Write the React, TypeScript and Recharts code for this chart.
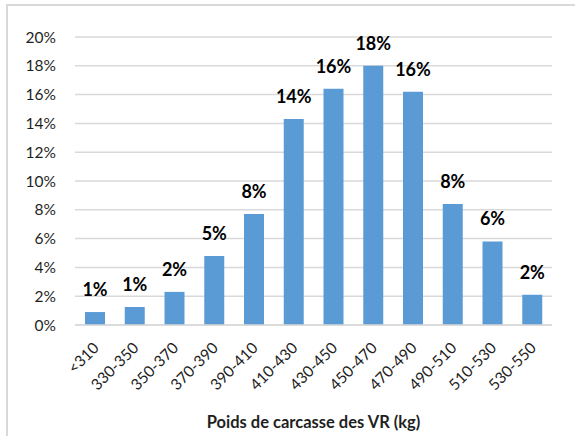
import { Bar, BarChart, CartesianGrid, LabelList, XAxis, YAxis } from "recharts";

const categories = [
  "<310",
  "330-350",
  "350-370",
  "370-390",
  "390-410",
  "410-430",
  "430-450",
  "450-470",
  "470-490",
  "490-510",
  "510-530",
  "530-550",
];
const shares = [0.9, 1.25, 2.3, 4.8, 7.7, 14.3, 16.4, 18.0, 16.2, 8.4, 5.8, 2.1];
const yTicks = [0, 2, 4, 6, 8, 10, 12, 14, 16, 18, 20];

const data = categories.map((c, i) => ({ range: c, share: shares[i] }));

const FONT = "Lato, 'Open Sans', sans-serif";
const TEXT = "#1f1f1f";
const GRID = "#d9d9d9";

function RotatedTick(props: any) {
  const { x, y, payload } = props;
  return (
    <g transform={`translate(${x + 5},${y + 16})`}>
      <text
        x={0}
        y={0}
        textAnchor="end"
        fill={TEXT}
        fontSize={15.5}
        fontFamily={FONT}
        transform="rotate(-45)"
      >
        {payload.value}
      </text>
    </g>
  );
}

const pct = (v: any) => `${Math.round(Number(v))}%`;

export default function App() {
  return (
    <div
      style={{
        position: "absolute",
        left: 0,
        top: 0,
        width: 575,
        height: 436,
        overflow: "hidden",
      }}
    >
      <div
        style={{
          position: "absolute",
          left: 6,
          top: 4,
          width: 620,
          height: 480,
          borderLeft: `2px solid ${GRID}`,
          borderTop: `2px solid ${GRID}`,
        }}
      />
      <div style={{ position: "absolute", left: 0, top: 0 }}>
        <BarChart
          width={575}
          height={436}
          data={data}
          margin={{ top: 37, right: 23, bottom: 0, left: 0 }}
        >
          <CartesianGrid vertical={false} stroke={GRID} strokeWidth={1.5} />
          <XAxis
            dataKey="range"
            interval={0}
            height={111}
            axisLine={{ stroke: GRID, strokeWidth: 1.5 }}
            tickLine={false}
            tick={<RotatedTick />}
            label={{
              value: "Poids de carcasse des VR (kg)",
              position: "insideBottom",
              offset: 8,
              fill: TEXT,
              fontSize: 16.5,
              fontWeight: 700,
              fontFamily: FONT,
            }}
          />
          <YAxis
            width={75}
            domain={[0, 20]}
            ticks={yTicks}
            tickFormatter={(v: number) => `${v}%`}
            axisLine={false}
            tickLine={false}
            tickMargin={13}
            tick={{ fill: TEXT, fontSize: 15.5, fontFamily: FONT }}
          />
          <Bar dataKey="share" fill="#5b9bd5" barSize={20} isAnimationActive={false}>
            <LabelList
              dataKey="share"
              position="top"
              offset={16}
              formatter={pct}
              fill="#000"
              fontSize={18}
              fontWeight={700}
              fontFamily={FONT}
            />
          </Bar>
        </BarChart>
      </div>
    </div>
  );
}
